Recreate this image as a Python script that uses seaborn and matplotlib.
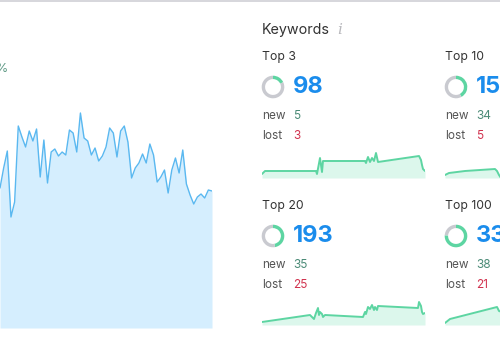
import matplotlib
matplotlib.use("Agg")
import matplotlib.pyplot as plt
import seaborn as sns
import pandas as pd

# ---------------- data ----------------
# main visibility trend (left panel)
trend_values = [14.0, 16.0, 17.7, 11.1, 12.6, 20.2, 19.1, 18.1, 19.7, 18.7, 19.9,
                15.1, 18.8, 14.5, 17.6, 17.9, 17.2, 17.6, 17.3, 19.8, 19.5, 17.6,
                21.5, 19.0, 18.7, 17.3, 18.0, 16.7, 17.2, 18.1, 20.0, 19.5, 17.1,
                19.7, 20.2, 18.6, 15.0, 16.0, 16.5, 17.4, 16.5, 18.4, 17.3, 14.6,
                15.1, 15.8, 13.5, 15.8, 17.0, 15.5, 17.8, 14.4, 13.3, 12.4, 13.1,
                13.4, 13.0, 13.8, 13.7]
trend_label = "%"

# keyword buckets
buckets = ["Top 3", "Top 10", "Top 20", "Top 100"]
bucket_totals = ["98", "15", "193", "33"]
bucket_new = [5, 34, 35, 38]
bucket_lost = [3, 5, 25, 21]
bucket_share = [0.18, 0.42, 0.47, 0.76]

# sparklines (day index, keyword count level)
top3_days = [0, 3, 54, 55, 58, 60, 61, 103, 104, 106, 108, 110, 112, 114, 116,
             157, 159, 160, 161, 163]
top3_vals = [4, 7, 7, 4, 20, 6, 17, 17, 15, 21, 16, 20, 17, 25, 16, 22, 18, 13, 9, 7]
top10_days = [0, 4, 20, 50, 52, 54, 56]
top10_vals = [3, 5, 7, 9, 7, 3, 0]
top20_days = [0, 48, 52, 54, 56, 57, 58, 60, 61, 63, 101, 103, 104, 106, 108, 110,
              112, 113, 115, 116, 156, 157, 159, 160, 161, 163]
top20_vals = [3, 10, 6, 12, 17, 10, 13, 11, 8, 10, 8, 13, 11, 18, 16, 20, 15, 18,
              15, 19, 17, 23, 19, 13, 11, 12]
top100_days = [0, 5, 52, 54, 57]
top100_vals = [2, 6, 18, 14, 13]

# ---------------- style ----------------
sns.set_style("white")
plt.rcParams["font.family"] = ["Inter", "DejaVu Sans"]

W, H = 500, 350
fig = plt.figure(figsize=(5, 3.5), dpi=100)
fig.patch.set_facecolor("white")


def px_axes(x0, y0, x1, y1):
    ax = fig.add_axes([x0 / W, 1 - y1 / H, (x1 - x0) / W, (y1 - y0) / H])
    ax.set_axis_off()
    return ax


def ftext(x, y, s, **kw):
    fig.text(x / W, 1 - y / H, s, **kw)


# top border
border = px_axes(0, 0, 500, 2)
border.axhline(0.5, color="#cfd0d6", lw=1.2)
border.set_ylim(0, 1)
border.set_xlim(0, 1)

# ---------------- main trend ----------------
ax = px_axes(0, 100, 212, 328)
df = pd.DataFrame({"i": range(len(trend_values)), "v": trend_values})
ax.fill_between(df["i"], df["v"], 0, color="#d5eefe", lw=0)
sns.lineplot(data=df, x="i", y="v", ax=ax, color="#5ab8f0", lw=1.0,
             estimator=None, sort=False)
ax.set_xlim(0, len(trend_values) - 1)
ax.set_ylim(0, 22.8)
ax.set_axis_off()
ftext(8, 72, trend_label, ha="right", va="baseline", fontsize=9, color="#5f9a86")

# ---------------- keywords panel ----------------
ftext(262, 34, "Keywords", ha="left", va="baseline", fontsize=10.3, color="#333333")
ftext(337, 34, "i", ha="left", va="baseline", fontsize=11, color="#b9b9bd",
      family="DejaVu Serif", style="italic")

GREEN = "#5dd5a2"
GREEN_FILL = "#dcf7ec"
GRAY = "#c9cad0"

layout = [  # (x, baseline of title)
    (262, 60), (445, 60), (262, 209), (445, 209)
]
sparks = [(top3_days, top3_vals), (top10_days, top10_vals),
          (top20_days, top20_vals), (top100_days, top100_vals)]

for k, (x0, ty) in enumerate(layout):
    ftext(x0, ty, buckets[k], ha="left", va="baseline", fontsize=8.8, color="#333333")
    # donut
    cy = ty + 27
    cx = x0 + 11
    r = 11.3
    dax = px_axes(cx - r, cy - r, cx + r, cy + r)
    frac = bucket_share[k]
    dax.pie([frac, 1 - frac], colors=[GREEN, GRAY], startangle=90,
            counterclock=False, wedgeprops=dict(width=0.3, linewidth=0))
    dax.set_xlim(-1, 1)
    dax.set_ylim(-1, 1)
    dax.set_aspect("equal")
    # big number
    ftext(x0 + 31, ty + 33, bucket_totals[k], ha="left", va="baseline",
          fontsize=17, fontweight="bold", color="#1a8cec")
    # new / lost
    ftext(x0, ty + 59, "new", ha="left", va="baseline", fontsize=8.5, color="#555555")
    ftext(x0 + 31, ty + 59, str(bucket_new[k]), ha="left", va="baseline",
          fontsize=8.5, color="#4b8b77")
    ftext(x0, ty + 79, "lost", ha="left", va="baseline", fontsize=8.5, color="#555555")
    ftext(x0 + 31, ty + 79, str(bucket_lost[k]), ha="left", va="baseline",
          fontsize=8.5, color="#d1334f")
    # sparkline
    base = ty + 118 if k < 2 else ty + 116
    sax = px_axes(x0, base - 28, x0 + 163, base)
    days, vals = sparks[k]
    sdf = pd.DataFrame({"d": days, "v": vals})
    sax.fill_between(sdf["d"], sdf["v"], 0, color=GREEN_FILL, lw=0)
    sns.lineplot(data=sdf, x="d", y="v", ax=sax, color=GREEN, lw=1.4,
                 estimator=None, sort=False)
    sax.set_xlim(0, 163)
    sax.set_ylim(0, 28)
    sax.set_axis_off()

fig.savefig("out.png", dpi=100, facecolor="white")
